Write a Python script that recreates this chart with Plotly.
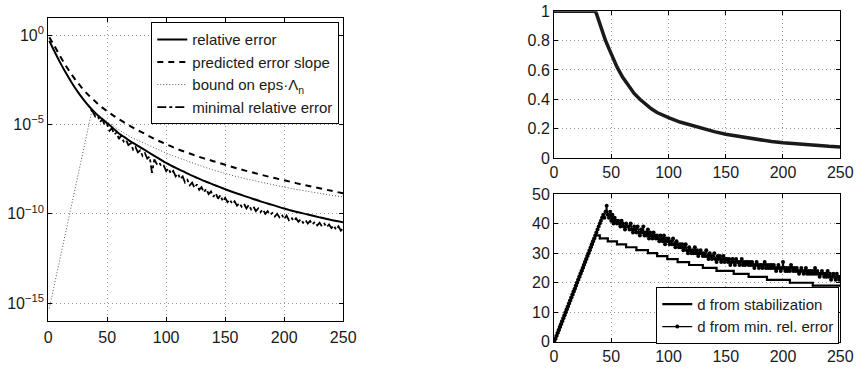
import numpy as np
import plotly.graph_objects as go

# ---------------- Left panel: errors (log10 values) ----------------
rel_n = [1, 5, 10, 15, 20, 25, 30, 35, 40, 45, 50, 55, 60, 65, 70, 75, 80, 85, 90, 95,
         100, 105, 110, 115, 120, 125, 130, 135, 140, 145, 150, 160, 170, 180, 190,
         200, 210, 220, 230, 240, 250]
rel_log = [-0.30, -0.85, -1.50, -2.10, -2.65, -3.15, -3.60, -4.00, -4.35, -4.65, -4.92,
           -5.20, -5.50, -5.72, -5.95, -6.15, -6.35, -6.55, -6.75, -6.95,
           -7.15, -7.32, -7.48, -7.64, -7.80, -7.95, -8.10, -8.23, -8.36, -8.49, -8.62,
           -8.86, -9.08, -9.30, -9.50, -9.70, -9.88, -10.04, -10.20, -10.35, -10.48]

pred_n = [1, 5, 10, 15, 20, 25, 30, 35, 40, 45, 50, 55, 60, 70, 80, 90, 100, 110, 120,
          130, 140, 150, 160, 170, 180, 190, 200, 210, 220, 230, 240, 250]
pred_log = [-0.10, -0.55, -1.15, -1.70, -2.20, -2.65, -3.05, -3.40, -3.70, -4.00, -4.25,
            -4.48, -4.70, -5.10, -5.45, -5.80, -6.10, -6.38, -6.62, -6.85, -7.05, -7.25,
            -7.45, -7.63, -7.80, -7.97, -8.12, -8.28, -8.43, -8.57, -8.71, -8.85]

bound_n = [1, 10, 20, 30, 37, 40, 45, 50, 60, 70, 80, 90, 100, 110, 120, 130, 140, 150,
           160, 170, 180, 190, 200, 210, 220, 230, 240, 250]
bound_log = [-15.30, -12.50, -9.45, -6.40, -4.25, -4.35, -4.60, -4.85, -5.30, -5.70,
             -6.00, -6.30, -6.60, -6.85, -7.10, -7.33, -7.55, -7.75, -7.92, -8.08, -8.23,
             -8.37, -8.50, -8.63, -8.75, -8.86, -8.96, -9.05]

minrel_n = list(range(36, 251, 2))
minrel_log = [-4.15, -4.30, -4.55, -4.50, -4.85, -4.70, -5.05, -5.00, -5.35, -5.20, -5.55,
              -5.45, -5.80, -5.60, -5.95, -5.85, -6.15, -6.05, -6.40, -6.25, -6.55, -6.45,
              -6.75, -6.60, -6.90, -6.80, -7.70, -6.95, -7.20, -7.10, -7.35, -7.30, -7.60,
              -7.45, -7.75, -7.60, -7.90, -7.75, -8.05, -7.90, -8.25, -8.10, -8.40, -8.25,
              -8.55, -8.35, -8.65, -8.50, -8.80, -8.60, -8.90, -8.75, -9.05, -8.85, -9.15,
              -8.95, -9.30, -9.10, -9.35, -9.20, -9.45, -9.30, -9.55, -9.40, -9.60, -9.45,
              -9.70, -9.50, -9.75, -9.60, -9.85, -9.70, -9.90, -9.75, -10.00, -9.85, -10.05,
              -9.95, -10.15, -10.00, -10.20, -10.05, -10.30, -10.10, -10.35, -10.20, -10.40,
              -10.25, -10.45, -10.30, -10.50, -10.35, -10.55, -10.40, -10.60, -10.45, -10.65,
              -10.50, -10.70, -10.55, -10.75, -10.60, -10.80, -10.65, -10.90, -10.70, -10.95,
              -10.80]

# ---------------- Right top: ratio ----------------
ratio_n = [0, 36, 37, 38, 40, 42, 45, 48, 50, 55, 60, 65, 70, 75, 80, 85, 90, 95, 100, 110,
           120, 130, 140, 150, 160, 170, 180, 190, 200, 210, 220, 230, 240, 250]
ratio_v = [1.0, 1.0, 0.985, 0.96, 0.915, 0.87, 0.80, 0.745, 0.705, 0.62, 0.55, 0.49, 0.44,
           0.40, 0.365, 0.335, 0.31, 0.29, 0.275, 0.245, 0.222, 0.20, 0.18, 0.162, 0.148,
           0.135, 0.123, 0.112, 0.104, 0.097, 0.090, 0.085, 0.080, 0.076]

# ---------------- Right bottom: d values ----------------
stab_n = list(range(0, 37)) + [40, 47, 55, 63, 72, 82, 90, 99, 108, 118, 130, 142, 157,
                               170, 186, 206, 226, 250]
stab_d = list(range(0, 37)) + [35, 34, 33, 32, 31, 30, 29, 28, 27, 26, 25, 24, 23, 22,
                               21, 20, 19, 19]

minerr_n = list(range(0, 251))
minerr_d = (list(range(0, 37)) +
            [37, 38, 39, 40, 41, 42, 43, 42, 44] + [46] +
            [43, 42, 44, 41, 43, 40, 42, 41, 40] +
            [41, 40, 39, 41, 40, 39, 38, 40, 39, 39, 38, 40, 38, 37, 39] +
            [38, 37, 39, 37, 36, 38, 37, 39, 36, 37, 36, 38, 35, 37, 36, 35, 37, 36, 35, 36] +
            [35, 34, 36, 35, 34, 36, 33, 35, 34, 35, 33, 34, 33, 35, 33, 32, 34, 33, 32, 33] +
            [32, 33, 31, 32, 33, 31, 30, 32, 31, 30, 31, 30, 32, 30, 31, 29, 30, 31, 30, 29] +
            [30, 29, 31, 29, 28, 30, 29, 28, 29, 30, 28, 27, 29, 28, 29, 27, 28, 29, 27, 28] +
            [28, 27, 28, 26, 27, 28, 27, 26, 28, 27, 27, 26, 27, 28, 26, 27, 26, 27, 27, 26] +
            [27, 26, 27, 26, 25, 26, 27, 26, 25, 26, 26, 25, 26, 27, 25, 26, 25, 26, 25, 26] +
            [25, 26, 25, 24, 25, 26, 25, 24, 25, 27, 25, 24, 25, 24, 25, 24, 26, 25, 24, 25] +
            [24, 25, 24, 23, 24, 25, 24, 23, 24, 25, 23, 24, 23, 24, 23, 24, 23, 25, 23, 24] +
            [23, 22, 23, 24, 23, 22, 23, 22, 24, 22, 23, 21, 22, 23, 22, 21, 23, 22, 21, 22])

x_ticks = [0, 50, 100, 150, 200, 250]
log_ticks = [1e-15, 1e-10, 1e-5, 1]
log_ticktext = ["10<sup>−15</sup>", "10<sup>−10</sup>", "10<sup>−5</sup>", "10<sup>0</sup>"]
top_ticks = [0, 0.2, 0.4, 0.6, 0.8, 1]
top_ticktext = ["0", "0.2", "0.4", "0.6", "0.8", "1"]
bot_ticks = [0, 10, 20, 30, 40, 50]

fig = go.Figure()

def p10(v):
    return (10.0 ** np.array(v)).tolist()

fig.add_trace(go.Scatter(x=rel_n, y=p10(rel_log), mode="lines", name="relative error",
                         line=dict(color="black", width=2, shape="spline"),
                         xaxis="x", yaxis="y", legend="legend"))
fig.add_trace(go.Scatter(x=pred_n, y=p10(pred_log), mode="lines", name="predicted error slope",
                         line=dict(color="black", width=2, dash="6px,5px", shape="spline"),
                         xaxis="x", yaxis="y", legend="legend"))
fig.add_trace(go.Scatter(x=bound_n, y=p10(bound_log), mode="lines",
                         name="bound on eps·Λ<sub>n</sub>",
                         line=dict(color="#555555", width=1, dash="1px,2px"),
                         xaxis="x", yaxis="y", legend="legend"))
fig.add_trace(go.Scatter(x=minrel_n, y=p10(minrel_log), mode="lines", name="minimal relative error",
                         line=dict(color="black", width=1.8, dash="dashdot"),
                         xaxis="x", yaxis="y", legend="legend"))

fig.add_trace(go.Scatter(x=ratio_n, y=ratio_v, mode="lines", showlegend=False,
                         line=dict(color="#1a1a1a", width=3.5),
                         xaxis="x2", yaxis="y2"))

fig.add_trace(go.Scatter(x=stab_n, y=stab_d, mode="lines+markers", name="d from stabilization",
                         line=dict(color="black", width=2.2, shape="hv"),
                         marker=dict(color="black", size=2),
                         xaxis="x3", yaxis="y3", legend="legend2"))
fig.add_trace(go.Scatter(x=minerr_n, y=minerr_d, mode="lines+markers", name="d from min. rel. error",
                         line=dict(color="black", width=1.2),
                         marker=dict(color="black", size=4),
                         xaxis="x3", yaxis="y3", legend="legend2"))

axis_common = dict(showline=True, linecolor="black", linewidth=1, mirror="ticks",
                   ticks="inside", ticklen=4, tickcolor="black",
                   showgrid=True, gridcolor="#9a9a9a", gridwidth=1, griddash="1px,3px",
                   zeroline=False, tickfont=dict(size=16, color="#1a1a1a"))

fig.update_layout(
    width=866, height=369,
    margin=dict(l=0, r=0, t=0, b=0),
    paper_bgcolor="white", plot_bgcolor="white",
    font=dict(family="Liberation Sans, Arial, sans-serif", size=15, color="#1a1a1a"),
    xaxis=dict(domain=[45/866, 346/866], anchor="y", range=[0, 250], tickvals=x_ticks,
               ticklabelstandoff=2, **axis_common),
    yaxis=dict(domain=[1-328/369, 1-10/369], anchor="x", type="log", range=[-16, 1],
               tickvals=log_ticks, ticktext=log_ticktext, **axis_common),
    xaxis2=dict(domain=[561/866, 853/866], anchor="y2", range=[0, 250], tickvals=x_ticks,
                ticklabelstandoff=0, **axis_common),
    yaxis2=dict(domain=[1-157.3/369, 1-3.3/369], anchor="x2", range=[0, 1],
                tickvals=top_ticks, ticktext=top_ticktext, **axis_common),
    xaxis3=dict(domain=[561/866, 853/866], anchor="y3", range=[0, 250], tickvals=x_ticks,
                ticklabelstandoff=0, **axis_common),
    yaxis3=dict(domain=[1-350/369, 1-195/369], anchor="x3", range=[0, 50],
                tickvals=bot_ticks, **axis_common),
    legend=dict(x=342/866, y=1-15/369, xanchor="right", yanchor="top",
                bgcolor="white", bordercolor="black", borderwidth=1,
                font=dict(size=15, color="#1a1a1a"), itemwidth=30,
                tracegroupgap=0),
    legend2=dict(x=852/866, y=1-352/369, xanchor="right", yanchor="bottom",
                 bgcolor="white", bordercolor="black", borderwidth=1,
                 font=dict(size=15, color="#1a1a1a"), itemwidth=30,
                 tracegroupgap=0),
)

fig.write_html("out.html")
